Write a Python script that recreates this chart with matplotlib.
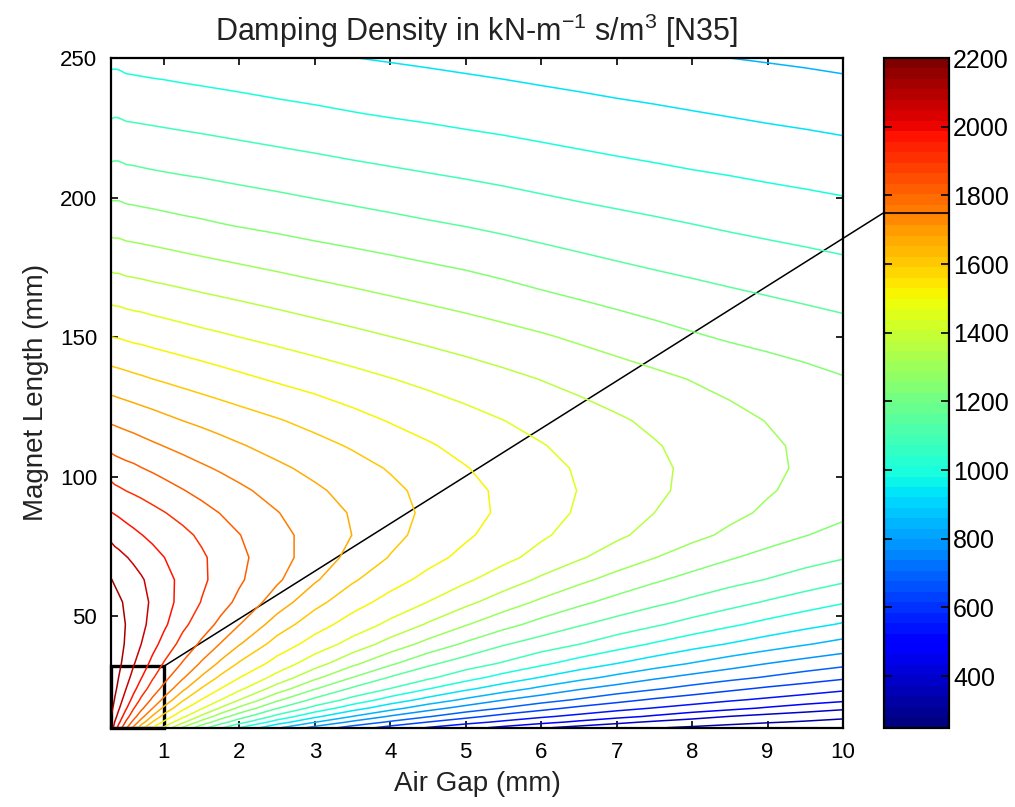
import numpy as np
import matplotlib
matplotlib.use("Agg")
import matplotlib.pyplot as plt
from matplotlib.colors import ListedColormap, Normalize
from matplotlib.patches import Rectangle, ConnectionPatch
from matplotlib.cm import ScalarMappable

# grid
air_gap = [0.3, 0.35, 0.4, 0.5, 0.6, 0.7, 0.85, 1, 1.25, 1.5, 1.75, 2, 2.5, 3, 3.5, 4,
           4.5, 5, 5.5, 6, 6.5, 7, 7.5, 8, 8.5, 9, 9.5, 10]
magnet_length = [10, 12, 14, 17, 20, 24, 28, 33, 40, 47, 55, 63, 71, 79, 87, 95, 103, 111,
                 120, 135, 150, 170, 190, 210, 230, 250]
# damping density, one row per magnet length
damping = [
    [2100,2015,1950,1837,1733,1631,1522,1438,1290,1181,1088,1000,863,749,669,596,546,501,457,410,374,348,330,315,300,285,272,259],
    [2114,2047,1993,1889,1801,1714,1596,1513,1391,1272,1183,1105,965,854,759,689,624,575,536,499,460,420,388,364,346,331,318,304],
    [2125,2072,2026,1930,1852,1778,1665,1573,1467,1359,1260,1183,1053,941,848,766,705,647,598,561,529,497,464,429,398,375,357,341],
    [2147,2100,2060,1982,1904,1843,1752,1659,1542,1458,1369,1285,1154,1052,958,879,805,746,697,649,608,575,547,521,495,467,439,414],
    [2165,2120,2083,2017,1950,1887,1812,1733,1609,1523,1452,1376,1239,1134,1052,970,901,837,778,733,692,651,615,586,560,537,515,492],
    [2183,2141,2107,2050,1995,1938,1866,1804,1693,1595,1525,1467,1341,1231,1140,1074,1004,941,886,833,783,744,709,675,642,613,589,566],
    [2194,2157,2125,2074,2027,1979,1908,1851,1760,1665,1586,1527,1425,1317,1225,1145,1089,1030,972,922,875,830,787,752,722,693,664,637],
    [2201,2171,2142,2096,2055,2016,1954,1895,1819,1740,1660,1592,1497,1408,1317,1238,1165,1112,1067,1015,967,925,885,846,809,775,746,720],
    [2199,2178,2154,2115,2083,2050,2001,1950,1874,1812,1747,1680,1570,1495,1423,1346,1277,1214,1157,1116,1077,1034,993,955,921,888,856,826],
    [2187,2171,2152,2122,2097,2068,2027,1989,1917,1861,1808,1752,1640,1556,1494,1433,1367,1305,1250,1200,1157,1121,1085,1048,1012,978,947,918],
    [2162,2149,2136,2115,2095,2073,2038,2005,1949,1897,1853,1808,1714,1623,1553,1500,1449,1393,1338,1287,1241,1201,1167,1135,1102,1068,1036,1006],
    [2128,2116,2107,2091,2075,2058,2027,1998,1957,1913,1874,1835,1761,1684,1609,1552,1505,1461,1413,1363,1317,1274,1235,1202,1174,1147,1117,1087],
    [2085,2074,2068,2053,2038,2021,1997,1976,1945,1911,1874,1841,1778,1716,1654,1596,1547,1507,1469,1426,1383,1342,1302,1264,1231,1203,1179,1155],
    [2034,2025,2019,2004,1990,1977,1960,1944,1918,1887,1855,1827,1773,1722,1674,1621,1575,1534,1498,1460,1423,1387,1352,1319,1286,1254,1227,1203],
    [1977,1971,1965,1952,1942,1932,1918,1903,1877,1849,1823,1799,1753,1709,1669,1627,1586,1548,1513,1477,1442,1408,1375,1346,1317,1289,1263,1239],
    [1924,1915,1910,1899,1891,1883,1868,1853,1828,1805,1784,1764,1723,1686,1652,1617,1579,1544,1512,1480,1448,1417,1387,1359,1332,1306,1282,1259],
    [1866,1858,1853,1844,1837,1827,1814,1800,1780,1760,1742,1723,1688,1657,1627,1594,1559,1528,1499,1471,1443,1415,1388,1362,1337,1313,1290,1268],
    [1806,1800,1796,1788,1781,1772,1760,1749,1731,1714,1697,1681,1651,1623,1593,1561,1532,1505,1479,1454,1429,1404,1380,1356,1332,1310,1289,1268],
    [1741,1738,1734,1727,1720,1713,1703,1692,1675,1661,1647,1633,1606,1578,1549,1521,1498,1474,1451,1428,1406,1384,1362,1341,1319,1298,1280,1262],
    [1633,1630,1627,1621,1615,1609,1600,1592,1579,1566,1553,1540,1516,1495,1473,1452,1432,1413,1393,1373,1354,1335,1316,1297,1280,1263,1246,1229],
    [1526,1523,1522,1516,1510,1507,1499,1492,1481,1470,1460,1450,1431,1412,1394,1376,1359,1342,1325,1308,1289,1270,1251,1233,1217,1204,1192,1180],
    [1395,1392,1392,1386,1383,1380,1374,1369,1360,1351,1343,1335,1319,1303,1288,1273,1258,1244,1228,1210,1194,1179,1166,1154,1142,1131,1120,1109],
    [1274,1273,1273,1267,1264,1261,1257,1252,1244,1237,1229,1222,1209,1195,1183,1171,1159,1148,1135,1122,1110,1099,1088,1077,1066,1056,1047,1037],
    [1164,1165,1165,1159,1157,1154,1150,1146,1140,1135,1129,1123,1112,1101,1090,1080,1070,1060,1050,1039,1028,1018,1009,1000,992,983,975,967],
    [1066,1069,1068,1062,1060,1058,1055,1052,1047,1042,1037,1032,1022,1013,1003,994,986,977,969,960,952,944,937,929,921,913,906,898],
    [983,983,982,976,974,972,969,967,962,958,954,950,941,933,926,919,912,905,898,891,884,876,868,859,850,844,838,831],
]
levels = np.arange(325, 2126, 75)
x_ticks = list(range(1, 11))
y_ticks = [50, 100, 150, 200, 250]
cbar_ticks = list(range(400, 2201, 200))
marked_level = 1750

plt.rcParams['font.family'] = ['Liberation Sans', 'DejaVu Sans']
plt.rcParams['mathtext.default'] = 'regular'
cmap = ListedColormap(plt.get_cmap('jet')(np.linspace(0, 1, 64)))
norm = Normalize(250, 2200)

fig = plt.figure(figsize=(10.15, 8.07), dpi=100)
ax = fig.add_axes([0.1094, 0.0983, 0.7212, 0.8298])
cax = fig.add_axes([0.8709, 0.0983, 0.064, 0.8298])

X, Y = np.meshgrid(air_gap, magnet_length)
ax.contour(X, Y, np.array(damping), levels=levels, cmap=cmap, norm=norm, linewidths=1.1)
ax.set_xlim(0.3, 10)
ax.set_ylim(10, 250)
ax.set_xticks(x_ticks)
ax.set_yticks(y_ticks)
ax.tick_params(direction='in', top=True, right=True, length=5, width=1.2, labelsize=16, pad=10)
for s in ax.spines.values():
    s.set_linewidth(1.6)
ax.set_title('Damping Density in kN-m$^{-1}$ s/m$^3$ [N35]', fontsize=22, pad=12, color='#222222')
ax.set_xlabel('Air Gap (mm)', fontsize=20, labelpad=6, color='#222222')
ax.set_ylabel('Magnet Length (mm)', fontsize=20, labelpad=8, color='#222222')

cb = fig.colorbar(ScalarMappable(norm=norm, cmap=cmap), cax=cax, ticks=cbar_ticks)
cax.tick_params(direction='in', left=True, right=True, length=6, width=1.2, labelsize=18, pad=3)
cb.outline.set_linewidth(1.6)
cax.axhline(marked_level, color='black', lw=1.2)

# highlighted design region and its link to the colour bar
ax.add_patch(Rectangle((0.3, 10), 0.7, 22, fill=False, ec='black', lw=2.4, clip_on=False))
ax.add_artist(ConnectionPatch(xyA=(1, 32), coordsA=ax.transData, xyB=(0, marked_level),
                              coordsB=cax.transData, color='black', lw=1.1))

fig.savefig('out.png', dpi=100)
